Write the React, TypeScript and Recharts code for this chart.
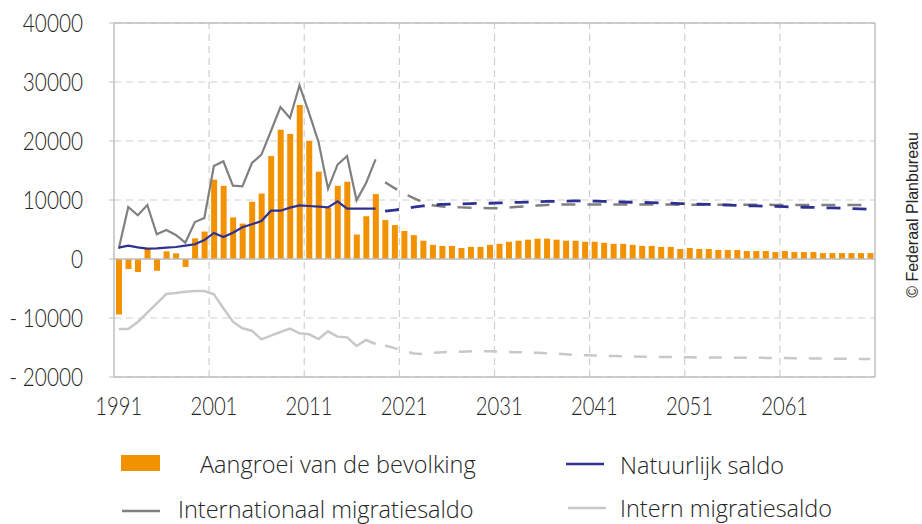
import React from 'react';
import { ComposedChart, Bar, Line, XAxis, YAxis, CartesianGrid, ReferenceLine } from 'recharts';

const years: number[] = Array.from({ length: 80 }, (_, i) => 1991 + i);

const growth: number[] = [
  -9400, -1700, -2200, 1750, -2000, 1300, 950, -1350, 3500, 4650,
  13450, 12400, 7050, 6000, 9700, 11100, 17450, 21900, 21200, 26100,
  20000, 14800, 8700, 12400, 13100, 4150, 7250, 11000, 6600, 5750,
  4750, 4050, 3100, 2400, 2200, 2200, 1870, 2050, 2050, 2400,
  2570, 2920, 3100, 3280, 3450, 3450, 3280, 3100, 3100, 2920,
  2920, 2750, 2570, 2570, 2400, 2220, 2220, 2050, 2050, 1700,
  1870, 1700, 1700, 1520, 1520, 1520, 1350, 1350, 1350, 1170,
  1350, 1170, 1170, 1170, 1000, 1000, 1000, 1000, 1000, 1000,
];

// 1991-2018
const intlHist: number[] = [
  1750, 8810, 7400, 9150, 4180, 4920, 4070, 2770, 6270, 6950,
  15760, 16550, 12430, 12320, 16270, 17680, 21700, 25760, 23900, 29440,
  24750, 19830, 11920, 15990, 17460, 9940, 12880, 16890,
];
// 2019-2070
const intlProj: number[] = [
  13000, 12000, 11100, 10300, 9600, 9100, 8900, 8800, 8750, 8700,
  8650, 8600, 8600, 8700, 8850, 8950, 9050, 9150, 9250, 9250,
  9250, 9250, 9250, 9250, 9250, 9250, 9250, 9250, 9250, 9250,
  9250, 9200, 9200, 9200, 9200, 9200, 9200, 9200, 9200, 9200,
  9200, 9150, 9150, 9150, 9150, 9150, 9150, 9150, 9150, 9150,
  9150, 9150,
];

const natHist: number[] = [
  1920, 2260, 1980, 1750, 1810, 1920, 2030, 2260, 2500, 3200,
  4410, 3730, 4460, 5370, 5880, 6440, 8190, 8190, 8700, 9100,
  8980, 8870, 8760, 9770, 8530, 8530, 8530, 8530,
];
const natProj: number[] = [
  8100, 8300, 8500, 8800, 9000, 9150, 9250, 9300, 9350, 9400,
  9420, 9450, 9500, 9550, 9600, 9650, 9700, 9750, 9780, 9820,
  9850, 9860, 9820, 9760, 9700, 9660, 9620, 9590, 9550, 9500,
  9470, 9400, 9350, 9300, 9250, 9200, 9130, 9080, 9030, 9000,
  8950, 8910, 8870, 8820, 8770, 8740, 8700, 8650, 8600, 8550,
  8500, 8450,
];

const internHist: number[] = [
  -11870, -11870, -10680, -9100, -7510, -5930, -5760, -5540, -5420, -5420,
  -5990, -8360, -10620, -11750, -12150, -13620, -13000, -12370, -11810, -12600,
  -12770, -13560, -12260, -13160, -13280, -14750, -13730, -14410,
];
const internProj: number[] = [
  -14670, -15100, -15600, -16000, -16100, -15900, -15800, -15750, -15700, -15650,
  -15650, -15650, -15700, -15750, -15800, -15850, -15900, -15980, -16050, -16150,
  -16250, -16300, -16350, -16400, -16450, -16500, -16520, -16550, -16580, -16600,
  -16620, -16640, -16660, -16680, -16700, -16710, -16720, -16730, -16740, -16750,
  -16760, -16770, -16790, -16810, -16830, -16850, -16870, -16890, -16900, -16920,
  -16930, -16940,
];

const xTicks: number[] = [1991, 2001, 2011, 2021, 2031, 2041, 2051, 2061];
const gridX: number[] = [2000.5, 2010.5, 2020.5, 2030.5, 2040.5, 2050.5, 2060.5];
const yTicks: number[] = [-20000, -10000, 0, 10000, 20000, 30000, 40000];

const HIST = 28;
const data = years.map((year, i) => ({
  year,
  growth: growth[i],
  intlHist: i < HIST ? intlHist[i] : null,
  intlProj: i >= HIST ? intlProj[i - HIST] : null,
  natHist: i < HIST ? natHist[i] : null,
  natProj: i >= HIST ? natProj[i - HIST] : null,
  internHist: i < HIST ? internHist[i] : null,
  internProj: i >= HIST ? internProj[i - HIST] : null,
}));

const ORANGE = '#F39200';
const BLUE = '#2E3192';
const DGRAY = '#808080';
const LGRAY = '#C8C8C8';
const GRID = '#D0D0D0';
const AXIS = '#BFBFBF';
const TEXT = '#262626';
const TICK_FONT = 'Lato, "Noto Sans", sans-serif';
const LEGEND_FONT = '"Open Sans", "Noto Sans", sans-serif';

const fmtY = (v: number) => (v < 0 ? `- ${Math.abs(v)}` : `${v}`);

const XTick = (props: any) => {
  const { x, y, payload } = props;
  return (
    <g transform={`translate(${x},${y})`}>
      <text transform="scale(0.81,1)" textAnchor="middle" fontSize={25} fontWeight={300} fill={TEXT} fontFamily={TICK_FONT}>
        {payload.value}
      </text>
    </g>
  );
};

const YTick = (props: any) => {
  const { x, y, payload } = props;
  return (
    <g transform={`translate(${x},${y})`}>
      <text transform="scale(0.83,1)" textAnchor="end" dy={9} fontSize={25} fontWeight={300} fill={TEXT} fontFamily={TICK_FONT}>
        {fmtY(payload.value)}
      </text>
    </g>
  );
};

export default function App() {
  return (
    <div style={{ position: 'absolute', left: 0, top: 0, width: 922, height: 524, background: '#fff' }}>
      <ComposedChart
        width={922}
        height={440}
        data={data}
        margin={{ top: 23, right: 47, bottom: 23, left: 0 }}
      >
        <CartesianGrid stroke={GRID} strokeDasharray="7 5" strokeWidth={1.2} vertical={false} />
        <XAxis
          dataKey="year"
          type="number"
          domain={[1990.5, 2070.5]}
          ticks={xTicks}
          interval={0}
          allowDataOverflow
          height={40}
          tickLine={false}
          tickSize={0}
          tickMargin={38}
          axisLine={{ stroke: AXIS, strokeWidth: 1.5 }}
          tick={<XTick />}
        />
        <YAxis
          type="number"
          domain={[-20000, 40000]}
          ticks={yTicks}
          interval={0}
          width={114}
          tickSize={5}
          tickMargin={26}
          tickLine={{ stroke: AXIS }}
          axisLine={{ stroke: AXIS, strokeWidth: 1.5 }}
          tick={<YTick />}
        />
        {gridX.map((gx) => (
          <ReferenceLine key={gx} x={gx} stroke={GRID} strokeWidth={1.2} strokeDasharray="7 5" />
        ))}
        <ReferenceLine y={40000} stroke={AXIS} strokeWidth={1.5} />
        <ReferenceLine x={2070.5} stroke={AXIS} strokeWidth={1.5} />
        <Bar dataKey="growth" fill={ORANGE} barSize={6} isAnimationActive={false} />
        <ReferenceLine y={0} stroke={AXIS} strokeWidth={1.5} />
        <Line dataKey="internHist" stroke={LGRAY} strokeWidth={2.5} dot={false} activeDot={false} isAnimationActive={false} type="linear" />
        <Line dataKey="internProj" stroke={LGRAY} strokeWidth={2.5} strokeDasharray="13 12" dot={false} activeDot={false} isAnimationActive={false} type="linear" />
        <Line dataKey="intlHist" stroke={DGRAY} strokeWidth={2.2} dot={false} activeDot={false} isAnimationActive={false} type="linear" />
        <Line dataKey="intlProj" stroke={DGRAY} strokeWidth={2.5} strokeDasharray="14 12" dot={false} activeDot={false} isAnimationActive={false} type="linear" />
        <Line dataKey="natHist" stroke={BLUE} strokeWidth={2.2} dot={false} activeDot={false} isAnimationActive={false} type="linear" />
        <Line dataKey="natProj" stroke={BLUE} strokeWidth={2.8} strokeDasharray="14 12" dot={false} activeDot={false} isAnimationActive={false} type="linear" />
      </ComposedChart>
      <svg width={922} height={524} style={{ position: 'absolute', left: 0, top: 0, pointerEvents: 'none' }}>
        <rect x={121} y={455} width={39} height={16} fill={ORANGE} />
        <text x={200} y={473} fontSize={23.5} fontWeight={300} fill={TEXT} fontFamily={LEGEND_FONT}>Aangroei van de bevolking</text>
        <line x1={566} x2={604} y1={464} y2={464} stroke={BLUE} strokeWidth={2.5} />
        <text x={620} y={474} fontSize={23.5} fontWeight={300} fill={TEXT} fontFamily={LEGEND_FONT}>Natuurlijk saldo</text>
        <line x1={122} x2={160} y1={511} y2={511} stroke={DGRAY} strokeWidth={2.5} />
        <text x={178} y={518} fontSize={23.5} fontWeight={300} fill={TEXT} fontFamily={LEGEND_FONT}>Internationaal migratiesaldo</text>
        <line x1={568} x2={606} y1={508} y2={508} stroke={LGRAY} strokeWidth={2.5} />
        <text x={620} y={517} fontSize={23.5} fontWeight={300} fill={TEXT} fontFamily={LEGEND_FONT}>Intern migratiesaldo</text>
        <text
          transform="translate(918,215) rotate(-90)"
          textAnchor="middle"
          fontSize={16}
          fill={TEXT}
          fontFamily='"Liberation Sans", Arial, sans-serif'
        >
          © Federaal Planbureau
        </text>
      </svg>
    </div>
  );
}
